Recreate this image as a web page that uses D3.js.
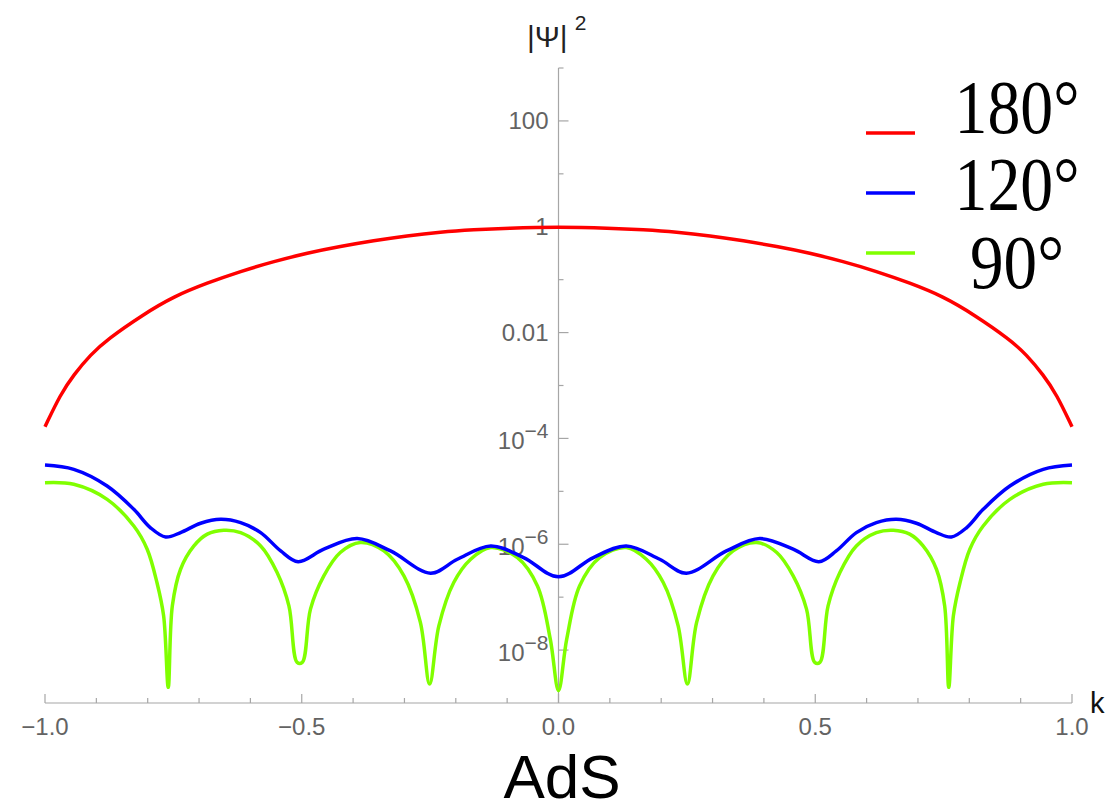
<!DOCTYPE html>
<html><head><meta charset="utf-8">
<script src="https://cdn.jsdelivr.net/npm/d3@7"></script>
<style>body{margin:0;background:#fff}</style>
</head><body>
<svg id="chart" width="1113" height="810"></svg>
<script>
// ---- data ----
const kRed = [-1, -0.97, -0.944, -0.911, -0.879, -0.809, -0.749, -0.684, -0.619, -0.554, -0.489, -0.425, -0.36, -0.295, -0.23, -0.165, -0.1, 0,
  0.1, 0.165, 0.23, 0.295, 0.36, 0.425, 0.489, 0.554, 0.619, 0.684, 0.749, 0.809, 0.879, 0.911, 0.944, 0.97, 1];
const valRed = [1.66e-4, 6.8e-4, 1.6e-3, 3.85e-3, 7.4e-3, 0.0219, 0.0484, 0.0867, 0.144, 0.221, 0.319, 0.425, 0.545, 0.676, 0.794, 0.877, 0.944, 1.0,
  0.944, 0.877, 0.794, 0.676, 0.545, 0.425, 0.319, 0.221, 0.144, 0.0867, 0.0484, 0.0219, 7.4e-3, 3.85e-3, 1.6e-3, 6.8e-4, 1.66e-4];

const kBlue = [-1, -0.944, -0.879, -0.827, -0.795, -0.765, -0.736, -0.697, -0.658, -0.619, -0.58, -0.541, -0.507, -0.457, -0.392, -0.327, -0.249, -0.197, -0.132, -0.068, 0,
  0.068, 0.132, 0.197, 0.249, 0.327, 0.392, 0.457, 0.507, 0.541, 0.58, 0.619, 0.658, 0.697, 0.736, 0.765, 0.795, 0.827, 0.879, 0.944, 1];
const valBlue = [3.13e-5, 2.6e-5, 1.26e-5, 4.57e-6, 2.07e-6, 1.37e-6, 1.66e-6, 2.49e-6, 2.96e-6, 2.56e-6, 1.66e-6, 7.48e-7, 4.68e-7, 8.05e-7, 1.28e-6, 7.48e-7, 2.84e-7, 5.21e-7, 9.29e-7, 5.61e-7, 2.42e-7,
  5.61e-7, 9.29e-7, 5.21e-7, 2.84e-7, 7.48e-7, 1.28e-6, 8.05e-7, 4.68e-7, 7.48e-7, 1.66e-6, 2.56e-6, 2.96e-6, 2.49e-6, 1.66e-6, 1.37e-6, 2.07e-6, 4.57e-6, 1.26e-5, 2.6e-5, 3.13e-5];

const kGreen = [-1, -0.944, -0.879, -0.827, -0.801, -0.782, -0.769, -0.76, -0.752, -0.736, -0.71, -0.684, -0.652, -0.619, -0.58, -0.548, -0.525, -0.509, -0.499, -0.483, -0.457, -0.425, -0.386, -0.34, -0.301, -0.269, -0.251, -0.233, -0.204, -0.171, -0.132, -0.08, -0.041, -0.016, 0,
  0.016, 0.041, 0.08, 0.132, 0.171, 0.204, 0.233, 0.251, 0.269, 0.301, 0.34, 0.386, 0.425, 0.457, 0.483, 0.499, 0.509, 0.525, 0.548, 0.58, 0.619, 0.652, 0.684, 0.71, 0.736, 0.752, 0.76, 0.769, 0.782, 0.801, 0.827, 0.879, 0.944, 1];
const valGreen = [1.46e-5, 1.36e-5, 7.06e-6, 2.21e-6, 8.05e-7, 1.89e-7, 4.44e-8, 1.98e-9, 6.85e-8, 3.37e-7, 9.29e-7, 1.55e-6, 1.84e-6, 1.66e-6, 9.29e-7, 2.92e-7, 6.85e-8, 5.86e-9, 5.86e-9, 5.94e-8, 2.52e-7, 6.97e-7, 1.08e-6, 7.48e-7, 2.52e-7, 3.33e-8, 2.28e-9, 2.87e-8, 1.89e-7, 5.21e-7, 8.67e-7, 5.61e-7, 1.63e-7, 1.61e-8, 1.71e-9,
  1.61e-8, 1.63e-7, 5.61e-7, 8.67e-7, 5.21e-7, 1.89e-7, 2.87e-8, 2.28e-9, 3.33e-8, 2.52e-7, 7.48e-7, 1.08e-6, 6.97e-7, 2.52e-7, 5.94e-8, 5.86e-9, 5.86e-9, 6.85e-8, 2.92e-7, 9.29e-7, 1.66e-6, 1.84e-6, 1.55e-6, 9.29e-7, 3.37e-7, 6.85e-8, 1.98e-9, 4.44e-8, 1.89e-7, 8.05e-7, 2.21e-6, 7.06e-6, 1.36e-5, 1.46e-5];

const seriesNames = ["180°", "120°", "90°"];
const seriesColors = ["#ff0000", "#0000ff", "#80ff00"];

const xMajorTicks = [-1, -0.5, 0, 0.5, 1];
const xMajorLabels = ["\u22121.0", "\u22120.5", "0.0", "0.5", "1.0"];
const xMinorTicks = [-0.9, -0.8, -0.7, -0.6, -0.4, -0.3, -0.2, -0.1, 0.1, 0.2, 0.3, 0.4, 0.6, 0.7, 0.8, 0.9];
const yMajorTicks = [1e-8, 1e-6, 1e-4, 1e-2, 1, 100];
const yMajorLabels = [["10", "\u22128"], ["10", "\u22126"], ["10", "\u22124"], ["0.01", ""], ["1", ""], ["100", ""]];
const yMinorTicks = [1e-7, 1e-5, 1e-3, 0.1, 10, 1000];

// ---- drawing ----
const svg = d3.select("#chart");
const x = d3.scaleLinear().domain([-1, 1]).range([45, 1072]);
const y = d3.scaleLog().domain([1e-9, 1e3]).range([703, 68]);
const axisColor = "#a6a6a6", labelColor = "#636363";
const sans = "Arial, 'Liberation Sans', Helvetica, sans-serif";

const x0 = x(0), yBase = y(1e-9);
// x axis
svg.append("line").attr("x1", x(-1)).attr("x2", x(1)).attr("y1", yBase).attr("y2", yBase)
  .attr("stroke", axisColor).attr("stroke-width", 1.2);
svg.selectAll(".xmaj").data(xMajorTicks).join("line")
  .attr("x1", d => x(d)).attr("x2", d => x(d)).attr("y1", yBase).attr("y2", yBase - 9)
  .attr("stroke", axisColor).attr("stroke-width", 1.2);
svg.selectAll(".xmin").data(xMinorTicks).join("line")
  .attr("x1", d => x(d)).attr("x2", d => x(d)).attr("y1", yBase).attr("y2", yBase - 5)
  .attr("stroke", axisColor).attr("stroke-width", 1.2);
svg.selectAll(".xlab").data(xMajorTicks).join("text")
  .attr("x", d => x(d)).attr("y", 735).attr("text-anchor", "middle")
  .attr("font-family", sans).attr("font-size", 24).attr("fill", labelColor)
  .text((d, i) => xMajorLabels[i]);

// y axis
svg.append("line").attr("x1", x0).attr("x2", x0).attr("y1", y(1e3)).attr("y2", yBase)
  .attr("stroke", axisColor).attr("stroke-width", 1.2);
svg.selectAll(".ymaj").data(yMajorTicks).join("line")
  .attr("x1", x0).attr("x2", x0 + 10).attr("y1", d => y(d)).attr("y2", d => y(d))
  .attr("stroke", axisColor).attr("stroke-width", 1.2);
svg.selectAll(".ymin").data(yMinorTicks).join("line")
  .attr("x1", x0).attr("x2", x0 + 5).attr("y1", d => y(d)).attr("y2", d => y(d))
  .attr("stroke", axisColor).attr("stroke-width", 1.2);
yMajorTicks.forEach((d, i) => {
  const [base, sup] = yMajorLabels[i];
  const t = svg.append("text").attr("x", x0 - 10).attr("text-anchor", "end")
    .attr("font-family", sans).attr("font-size", 24).attr("fill", labelColor);
  if (sup) {
    t.attr("y", y(d) + 11);
    t.append("tspan").text(base);
    t.append("tspan").attr("dy", -11).attr("font-size", 21).text(sup);
  } else {
    t.attr("y", y(d) + 8).text(base);
  }
});

// axis labels
const yl = svg.append("text").attr("x", 527).attr("y", 47).attr("font-family", sans)
  .attr("font-size", 30).attr("fill", "#222");
yl.append("tspan").text("|\u03A8|");
yl.append("tspan").attr("dx", 7).attr("dy", -17).attr("font-size", 21).text("2");
svg.append("text").attr("x", 1090).attr("y", 713).attr("font-family", sans)
  .attr("font-size", 29).attr("fill", "#111").text("k");

// curves
const lineFor = c => d3.line().x(d => x(d[0])).y(d => y(d[1])).curve(c);
const curves = [d3.curveBasis, d3.curveCatmullRom.alpha(0.5), d3.curveCatmullRom.alpha(0.5)];
const sets = [[kRed, valRed], [kBlue, valBlue], [kGreen, valGreen]];
[2, 1, 0].forEach(i => {
  const pts = sets[i][0].map((k, j) => [k, sets[i][1][j]]);
  svg.append("path").attr("d", lineFor(curves[i])(pts)).attr("fill", "none")
    .attr("stroke", seriesColors[i]).attr("stroke-width", 3.5).attr("stroke-linejoin", "round");
});

// title
svg.append("text").attr("x", 562).attr("y", 798).attr("text-anchor", "middle")
  .attr("font-family", sans).attr("font-size", 62).attr("fill", "#000").text("AdS");

// legend
const legLineY = [133, 193, 253];
const legTextY = [133, 210, 288];
const legTextLen = [125, 125, 94];
seriesNames.forEach((name, i) => {
  svg.append("line").attr("x1", 866).attr("x2", 915).attr("y1", legLineY[i]).attr("y2", legLineY[i])
    .attr("stroke", seriesColors[i]).attr("stroke-width", 3.5);
  svg.append("text").attr("x", 1017).attr("y", legTextY[i]).attr("text-anchor", "middle")
    .attr("font-family", "'Liberation Serif', 'Times New Roman', serif").attr("font-size", 76)
    .attr("fill", "#000").attr("textLength", legTextLen[i]).attr("lengthAdjust", "spacingAndGlyphs")
    .text(name);
});
</script>
</body></html>
